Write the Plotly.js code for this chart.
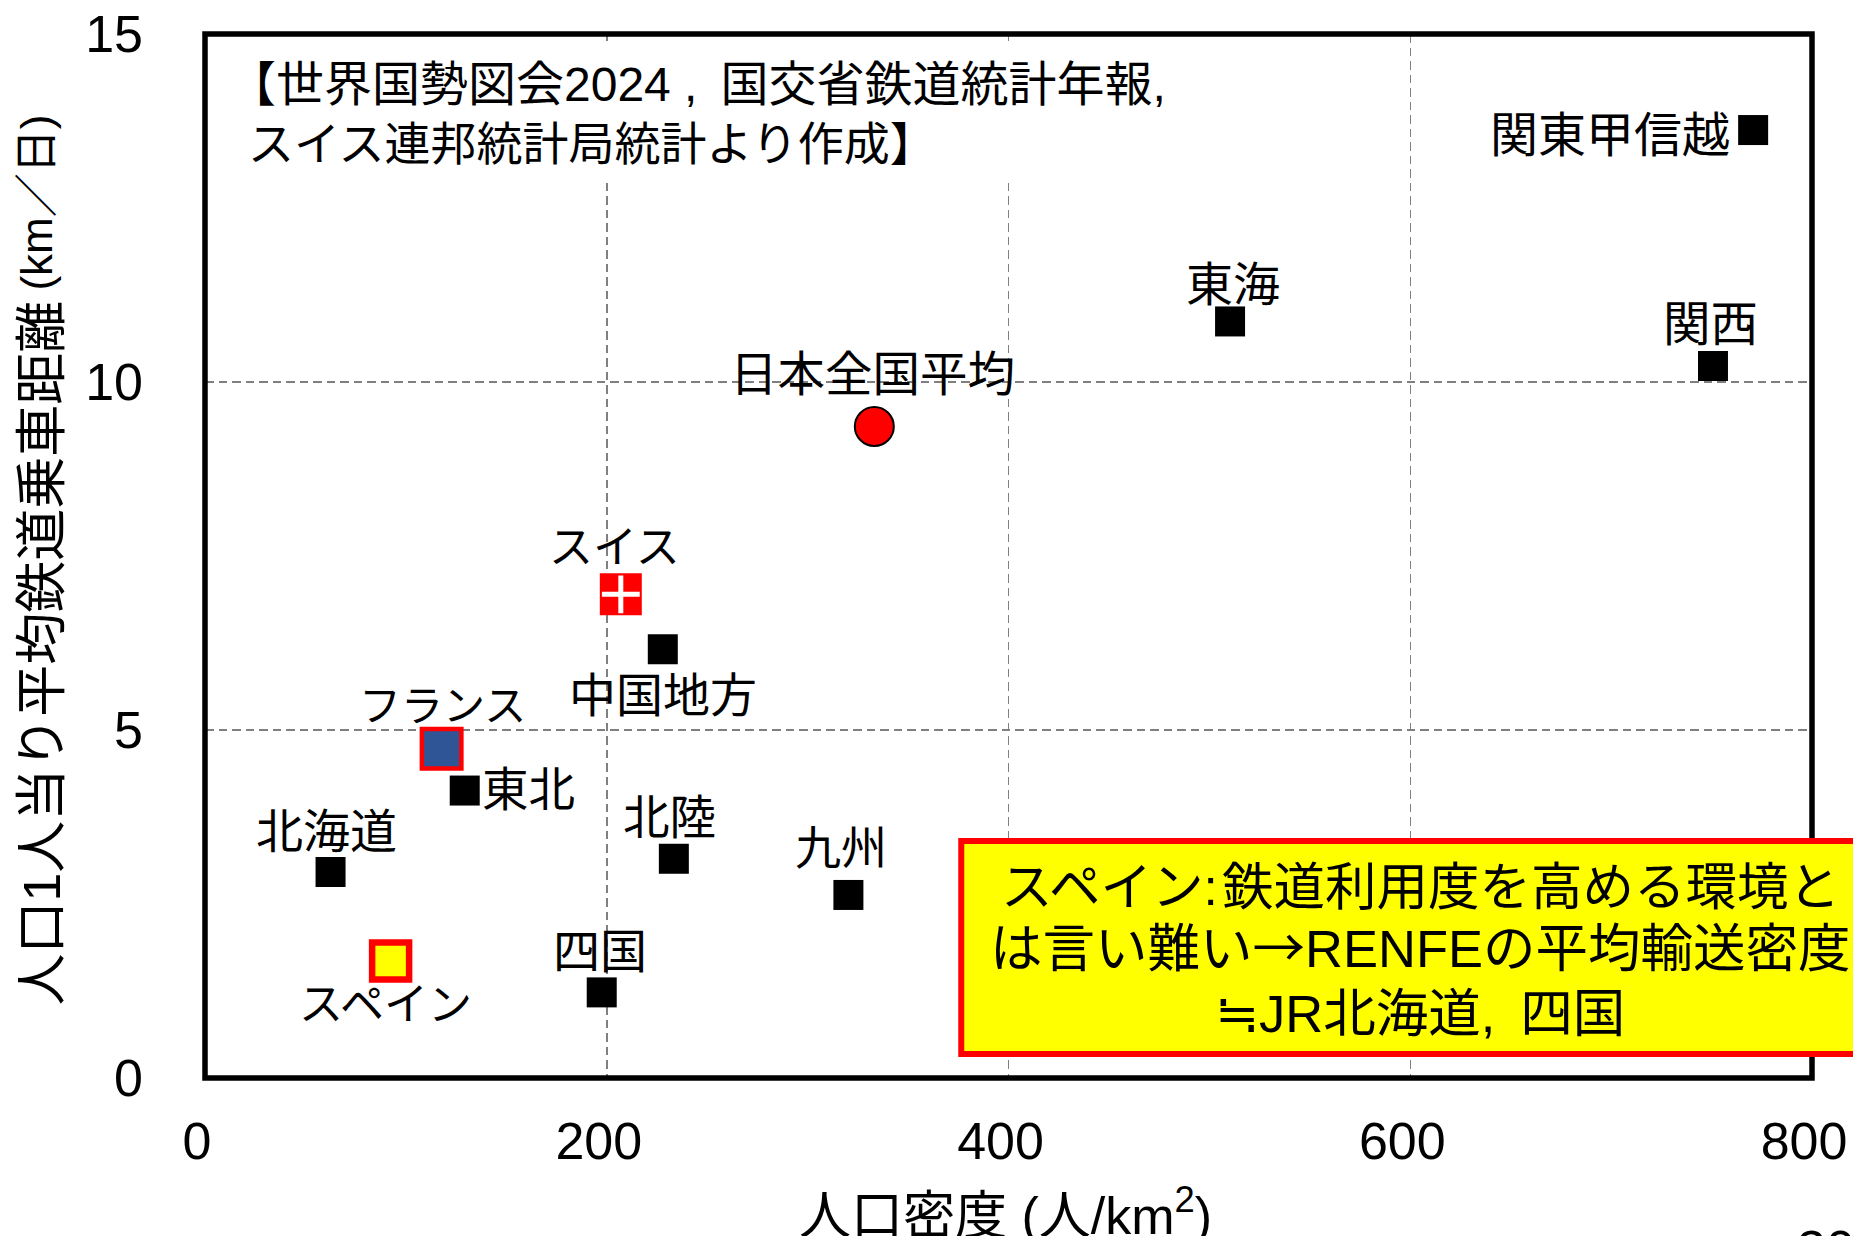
<!DOCTYPE html>
<html><head><meta charset="utf-8">
<script src="https://cdn.plot.ly/plotly-3.0.1.min.js"></script>
<style>html,body{margin:0;padding:0;background:#fff;overflow:hidden}</style>
</head><body><div id="chart" style="width:1853px;height:1236px"></div>
<script>
const regionNames=["関東甲信越","東海","関西","中国地方","東北","北海道","北陸","九州","四国"];
const regionX=[770.7,510.3,750.7,227.9,129.3,62.5,233.4,320.3,197.5];
const regionY=[13.62,10.87,10.23,6.16,4.13,2.96,3.15,2.63,1.23];
const japanX=[333.2], japanY=[9.36];
const swissX=[207.0], swissY=[6.95];
const franceX=[117.8], franceY=[4.73];
const spainX=[92.4], spainY=[1.68];
const xTicks=[0,200,400,600,800];
const yTicks=[0,5,10,15];
const sourceLine1="【世界国勢図会2024\u00a0,\u00a0\u2009国交省鉄道統計年報,";
const sourceLine2="スイス連邦統計局統計より作成】";
const CJK='font-family:Noto Sans CJK JP';
const noteLines=["スペイン:\u200a鉄道利用度を高める環境と","は言い難い<span style=\""+CJK+"\">→</span>RENFEの平均輸送密度","<span style=\""+CJK+"\">≒</span>JR北海道,\u00a0\u2009四国"];
const yTitleMain="人口1人当り平均鉄道乗車距離";
const yTitleUnit="(km／日)";
const xTitle="人口密度\u00a0(人/km<sup>2</sup>)";

const FONT='"Liberation Sans","Noto Sans CJK JP",sans-serif';
const W=1853,H=1236,L=204.5,R=1812,T=34,B=1078;
const px=(v)=>(v-L)/(R-L), py=(v)=>1-(v-T)/(B-T);
const traces=[
 {x:regionX,y:regionY,text:regionNames,mode:'markers',type:'scatter',marker:{symbol:'square',size:30,color:'#000'}},
 {x:japanX,y:japanY,mode:'markers',type:'scatter',marker:{symbol:'circle',size:39,color:'#ff0000',line:{color:'#000',width:2}}},
 {x:swissX,y:swissY,mode:'markers',type:'scatter',marker:{symbol:'square',size:42,color:'#ff0000'}},
 {x:swissX,y:swissY,mode:'markers',type:'scatter',marker:{symbol:'cross-thin',size:27,color:'#fff',line:{color:'#fff',width:5}}},
 {x:franceX,y:franceY,mode:'markers',type:'scatter',marker:{symbol:'square',size:39.5,color:'#2f5597',line:{color:'#ff0000',width:4.5}}},
 {x:spainX,y:spainY,mode:'markers',type:'scatter',marker:{symbol:'square',size:37,color:'#ffff00',line:{color:'#ff0000',width:6.5}}}
];
const lbl=(t,x,y,dx,dy,size)=>({text:t,x:x,y:y,xref:'x',yref:'y',xshift:dx,yshift:dy,showarrow:false,xanchor:'center',yanchor:'middle',font:{family:FONT,size:size,color:'#000'}});
const pap=(t,x,y,size,extra)=>Object.assign({text:t,xref:'paper',yref:'paper',x:px(x),y:py(y),xanchor:'center',yanchor:'middle',showarrow:false,font:{family:FONT,size:size,color:'#000'}},extra||{});
const offs=[[-143,-5],[3,37],[-2,41],[0,-46],[64,1],[-4,40],[-4,41],[-7,47],[-2,41]];
const sizes=[48,47,47.5,47,46.5,47,46.5,46,47];
const annotations=regionNames.map((n,i)=>lbl(n,regionX[i],regionY[i],offs[i][0],offs[i][1],sizes[i]));
annotations.push(lbl("日本全国平均",japanX[0],japanY[0],-2,52,47.5));
annotations.push(lbl("スイス",swissX[0],swissY[0],-6,47,44));
annotations.push(lbl("フランス",franceX[0],franceY[0],1,42,42));
annotations.push(lbl("スペイン",spainX[0],spainY[0],-5,-43,44));
annotations.push(pap(sourceLine1,226,85,48,{xanchor:'left'}));
annotations.push(pap(sourceLine2,246,144,46,{xanchor:'left'}));
const noteY=[887,944,1009], noteS=[51.5,52.5,52.5];
noteLines.forEach((t,i)=>annotations.push(pap(t,1420,noteY[i],noteS[i])));
annotations.push(pap(yTitleMain,41,653,52,{textangle:-90}));
annotations.push(pap(yTitleUnit,35,203,44,{textangle:-90}));
annotations.push(pap(xTitle,1005,1212,52));
annotations.push(pap("30",1826,1249,52));

const layout={
 width:W,height:H,showlegend:false,paper_bgcolor:'#fff',plot_bgcolor:'#fff',
 margin:{l:L,r:W-R,t:T,b:H-B,pad:0},
 font:{family:FONT,color:'#000'},
 xaxis:{range:[0,800],tickvals:xTicks,ticktext:xTicks.map(String),showgrid:true,gridcolor:'#808080',griddash:'8.5px,5px',gridwidth:1.5,zeroline:false,showline:false,ticks:'',tickfont:{family:FONT,size:52,color:'#000'},ticklabelshift:-8,ticklabelstandoff:28},
 yaxis:{range:[0,15],tickvals:yTicks,ticktext:yTicks.map(String),showgrid:true,gridcolor:'#808080',griddash:'8.5px,5px',gridwidth:1.5,zeroline:false,showline:false,ticks:'',tickfont:{family:FONT,size:52,color:'#000'},ticklabelstandoff:61},
 shapes:[
  {type:'rect',xref:'x',yref:'y',x0:3,x1:590,y0:12.93,y1:14.9,fillcolor:'#fff',line:{width:0},layer:'above'},
  {type:'rect',xref:'paper',yref:'paper',x0:0,x1:1,y0:0,y1:1,line:{color:'#000',width:5.5},fillcolor:'rgba(0,0,0,0)',layer:'above'},
  {type:'rect',xref:'paper',yref:'paper',x0:px(961),x1:px(1890),y0:py(1054),y1:py(841),fillcolor:'#ffff00',line:{color:'#ff0000',width:6},layer:'above'}
 ],
 annotations:annotations
};
Plotly.newPlot('chart',traces,layout,{displayModeBar:false,staticPlot:true});
</script></body></html>
